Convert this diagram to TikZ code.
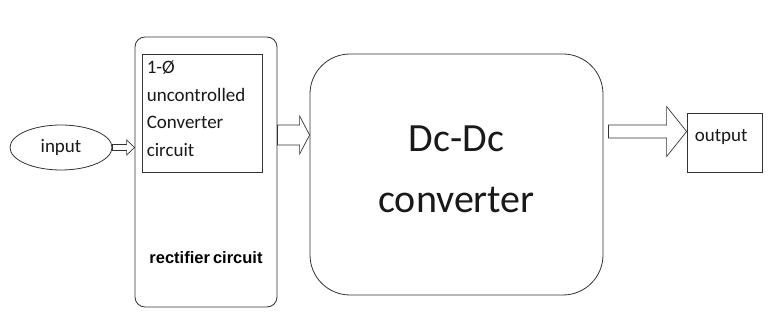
\documentclass[tikz,border=0pt]{standalone}
\usepackage{fontspec}
\setmainfont{Carlito}
\newfontfamily\arialfont{Liberation Sans}
\usetikzlibrary{calc,shapes.geometric}
\tikzset{
  box/.style={draw=black!80, line width=0.8pt, fill=white, inner sep=0pt},
  blk/.style={draw=black!80, line width=0.7pt, fill=white, line join=miter},
  lbl/.style={inner sep=0pt, font=\fontsize{19}{27.5}\selectfont, text=black!90}
}
% #1 start, #2 tip, #3 shaft half height, #4 head half height, #5 head length
\newcommand\blkarrow[5]{%
  \draw[blk] let \p1=(#1), \p2=(#2) in
    (\x1,{\y1+#3pt}) -- ({\x2-#5pt},{\y1+#3pt}) -- ({\x2-#5pt},{\y1+#4pt}) --
    (\x2,\y1) -- ({\x2-#5pt},{\y1-#4pt}) -- ({\x2-#5pt},{\y1-#3pt}) --
    (\x1,{\y1-#3pt}) -- cycle;}
\begin{document}
\begin{tikzpicture}[x=1pt,y=-1pt]
\useasboundingbox[fill=white] (0,0) rectangle (774,326);

% rectifier block
\node[box, rounded corners=10pt, minimum width=142pt, minimum height=270pt] (rect) at (206,172) {};
\node[box, minimum width=120pt, minimum height=118pt] (inner) at (202,113) {};
\node[lbl, anchor=north west, align=left] (innertxt) at ($(inner.north west)+(5,7)$)
  {1-Ø\\uncontrolled\\Converter\\circuit};
\node[inner sep=0pt, anchor=base, font=\arialfont\bfseries\fontsize{16.5}{18}\selectfont, text=black] (rectlbl)
  at ($(rect.south)+(0,-44)$) {rectifier\hspace{-1.5pt} circuit};

% input
\node[box, ellipse, minimum width=102pt, minimum height=45pt] (in) at (61,147.5) {};
\node[lbl] (intxt) at (in.center) {input};

% Dc-Dc converter
\node[box, rounded corners=40pt, minimum width=293pt, minimum height=241pt] (dc) at (456.5,174.5) {};
\node[inner sep=0pt, align=center, font=\fontsize{40}{61}\selectfont, text=black!90] (dctxt)
  at ($(dc.center)+(0,-5)$) {Dc-Dc\\converter};

% output
\node[box, minimum width=75pt, minimum height=59pt] (out) at (724.5,142.5) {};
\node[lbl, anchor=base west] (outtxt) at ($(out.north west)+(8,29)$) {output};

% arrows
\coordinate (a2) at ($(dc.west)+(0,-39.5)$);
\coordinate (a3) at ($(out.west)+(0,-11)$);
\coordinate (a3s) at ($(dc.east |- a3)+(5,0)$);
\blkarrow{in.east}{rect.west |- in.east}{3}{7.5}{8}
\blkarrow{rect.east |- a2}{a2}{10}{19}{10}
\blkarrow{a3s}{a3}{6.5}{25}{20}
\end{tikzpicture}
\end{document}
